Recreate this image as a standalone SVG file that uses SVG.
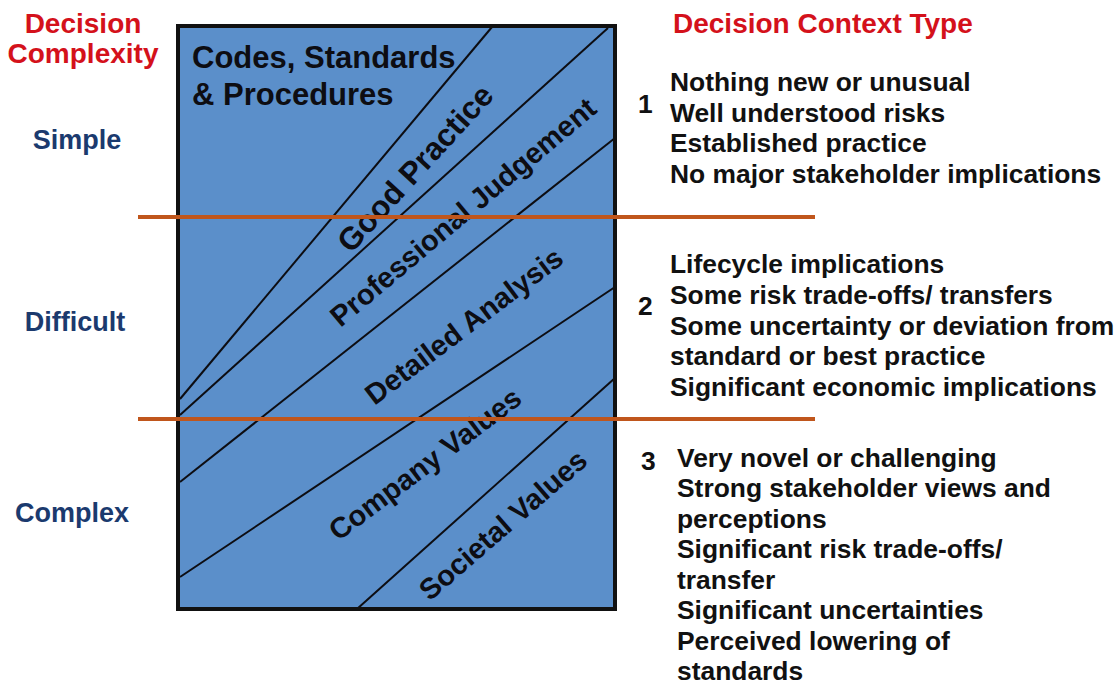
<svg xmlns="http://www.w3.org/2000/svg" width="1115" height="684" viewBox="0 0 1115 684">
<style>
text{font-family:"Liberation Sans",Arial,sans-serif;font-weight:bold}
.red{fill:#d4111b;font-size:28px}
.navy{fill:#1b3a6e;font-size:27px}
.body{fill:#111;font-size:26.4px}
.lab{fill:#0d0d12;font-size:29px}
.band{stroke:#0d0d12;stroke-width:2;fill:none}
.orange{stroke:#c0561c;stroke-width:4}
</style>
<rect width="1115" height="684" fill="#ffffff"/>
<g id="left-axis">
<text class="red" x="83" y="33" text-anchor="middle">Decision</text>
<text class="red" x="83" y="63" text-anchor="middle">Complexity</text>
<text class="navy" x="77" y="149" text-anchor="middle">Simple</text>
<text class="navy" x="75" y="331" text-anchor="middle">Difficult</text>
<text class="navy" x="72" y="522" text-anchor="middle">Complex</text>
</g>
<g id="box">
<rect x="178" y="26" width="437" height="583" fill="#5b8fca"/>
<g class="band">
<line x1="492" y1="27" x2="180" y2="399"/>
<line x1="608" y1="28" x2="180" y2="415"/>
<line x1="615" y1="138" x2="180" y2="482"/>
<line x1="615" y1="287" x2="180" y2="577"/>
<line x1="615" y1="378" x2="357" y2="609"/>
</g>
<rect x="178" y="26" width="437" height="583" fill="none" stroke="#111" stroke-width="4"/>
<text class="lab" x="192" y="68" style="font-size:31px">Codes, Standards</text>
<text class="lab" x="192" y="105" style="font-size:31px">&amp; Procedures</text>
<text class="lab" x="415" y="179" text-anchor="middle" transform="rotate(-47.5 415 168)" style="font-size:31.5px">Good Practice</text>
<text class="lab" x="463" y="222" text-anchor="middle" transform="rotate(-40 463 212)">Professional Judgement</text>
<text class="lab" x="464" y="336" text-anchor="middle" transform="rotate(-37 464 326)">Detailed Analysis</text>
<text class="lab" x="425" y="474" text-anchor="middle" transform="rotate(-37 425 464)">Company Values</text>
<text class="lab" x="503" y="535" text-anchor="middle" transform="rotate(-41 503 525)">Societal Values</text>
</g>
<g id="connectors">
<line class="orange" x1="138" y1="217" x2="815" y2="217"/>
<line class="orange" x1="138" y1="419" x2="815" y2="419"/>
</g>
<g id="context">
<text class="red" x="673" y="33">Decision Context Type</text>
<text class="body" x="638" y="113">1</text>
<text class="body" x="670" y="91">Nothing new or unusual</text>
<text class="body" x="670" y="122">Well understood risks</text>
<text class="body" x="670" y="152">Established practice</text>
<text class="body" x="670" y="183">No major stakeholder implications</text>
<text class="body" x="638" y="315">2</text>
<text class="body" x="670" y="273">Lifecycle implications</text>
<text class="body" x="670" y="304">Some risk trade-offs/ transfers</text>
<text class="body" x="670" y="335">Some uncertainty or deviation from</text>
<text class="body" x="670" y="365">standard or best practice</text>
<text class="body" x="670" y="396">Significant economic implications</text>
<text class="body" x="641" y="470">3</text>
<text class="body" x="677" y="467">Very novel or challenging</text>
<text class="body" x="677" y="497">Strong stakeholder views and</text>
<text class="body" x="677" y="528">perceptions</text>
<text class="body" x="677" y="558">Significant risk trade-offs/</text>
<text class="body" x="677" y="589">transfer</text>
<text class="body" x="677" y="619">Significant uncertainties</text>
<text class="body" x="677" y="650">Perceived lowering of</text>
<text class="body" x="677" y="680">standards</text>
</g>
</svg>
